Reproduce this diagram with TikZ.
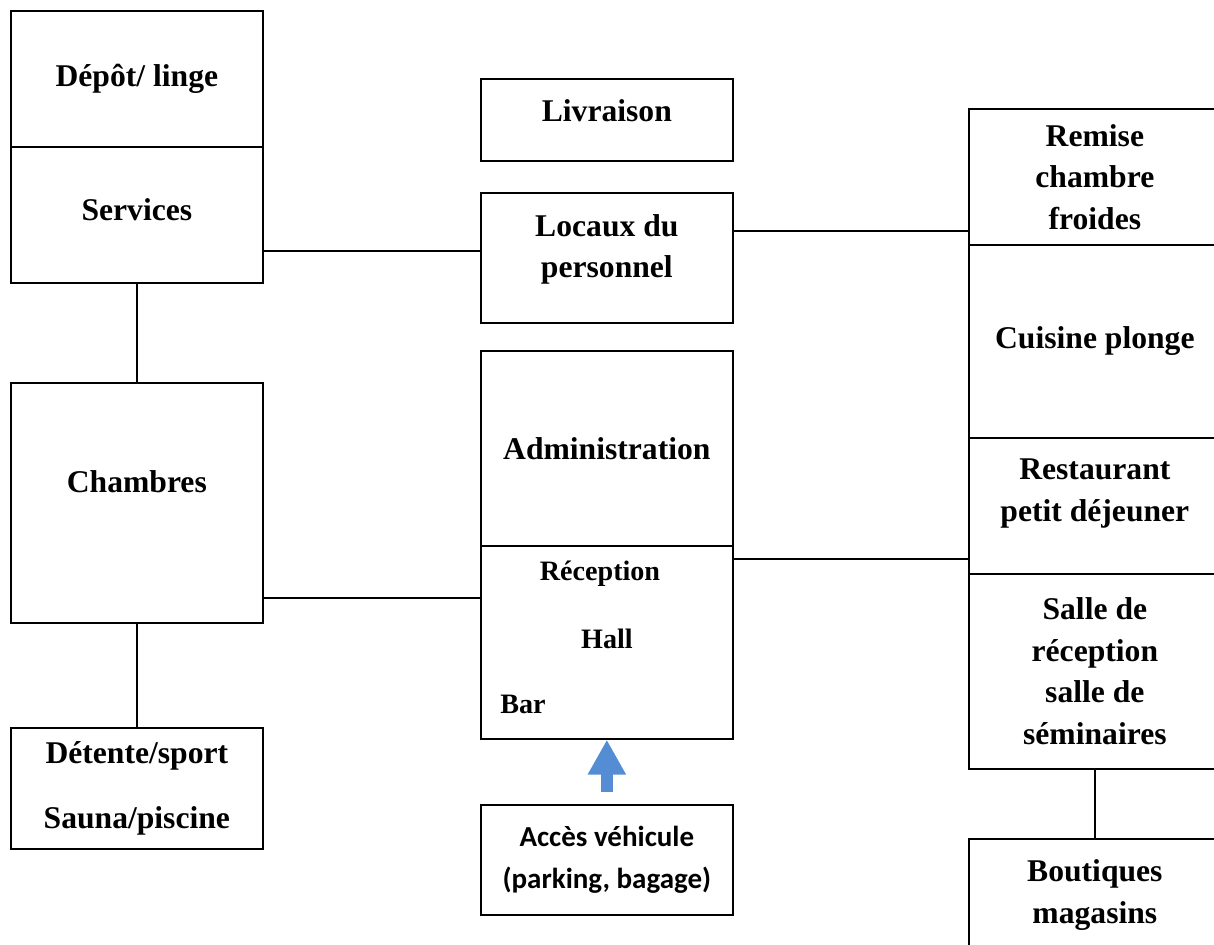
\documentclass[tikz,border=0pt]{standalone}
\usepackage{fontspec}
\setmainfont{Liberation Serif}
\newfontfamily\calibri{Carlito}
\usetikzlibrary{arrows.meta}
\definecolor{accesblue}{RGB}{84,141,212}
\tikzset{
  room/.style={draw, line width=1pt, anchor=north west, minimum width=5.04cm,
    inner sep=0pt, align=center, font=\bfseries\fontsize{18}{23.7}\selectfont},
  hallnote/.style={inner sep=0pt, font=\bfseries\fontsize{16}{20}\selectfont},
  link/.style={line width=1pt}
}
\begin{document}
\begin{tikzpicture}[x=0.02cm, y=-0.02cm]
    \useasboundingbox (0,0) rectangle (1214,945);

    % Left column
    \node[room, minimum height=2.72cm] (depot) at (10,10) {D\'ep\^ot/ linge};
    \node[room, minimum height=2.72cm, text depth=0.2cm] (serv) at (10,146) {Services};
    \node[room, minimum height=4.8cm, text depth=0.84cm] (chamb) at (10,382) {Chambres};
    \node[room, minimum height=2.42cm] (detente) at (10,727) {D\'etente/sport\\[13pt] Sauna/piscine};

    % Middle column
    \node[room, minimum height=1.64cm, text depth=0.36cm] (livr) at (480,78) {Livraison};
    \node[room, minimum height=2.6cm, text depth=0.47cm] (locaux) at (480,192) {Locaux du\\ personnel};
    \node[room, minimum height=3.9cm] (admin) at (480,350) {Administration};
    \node[room, minimum height=3.86cm] (recep) at (480,545) {};
    \node[hallnote] (receptxt) at (600,574) {R\'eception};
    \node[hallnote] (halltxt) at (607,639) {Hall};
    \node[hallnote] (bartxt) at (523,704) {Bar};
    \node[room, minimum height=2.2cm, font=\calibri\bfseries\fontsize{16.5}{23.7}\selectfont]
      (acces) at (480,804) {Acc\`es v\'ehicule\\ (parking, bagage)};

    % Right column
    \node[room, minimum height=2.72cm] (remise) at (968,108) {Remise\\ chambre\\ froides};
    \node[room, minimum height=3.86cm] (cuisine) at (968,244) {Cuisine plonge};
    \node[room, minimum height=2.72cm, text depth=0.62cm] (resto) at (968,437) {Restaurant\\ petit d\'ejeuner};
    \node[room, minimum height=3.9cm] (salle) at (968,573) {Salle de\\ r\'eception\\ salle de\\ s\'eminaires};
    \node[room, minimum height=2.24cm] (bout) at (968,838) {Boutiques\\ magasins};

    % Links
    \draw[link] (serv) -- (chamb);
    \draw[link] (chamb) -- (detente);
    \draw[link] (salle) -- (bout);
    \path (serv.east) ++(0,36) coordinate (servlink);
    \draw[link] (servlink) -- (servlink -| locaux.west);
    \path (locaux.east) ++(0,-27) coordinate (locauxlink);
    \draw[link] (locauxlink) -- (locauxlink -| remise.west);
    \path (chamb.east) ++(0,95) coordinate (chamblink);
    \draw[link] (chamblink) -- (chamblink -| recep.west);
    \path (recep.east) ++(0,-83) coordinate (receplink);
    \draw[link] (receplink) -- (receplink -| resto.west);

    % Access arrow
    \draw[accesblue, line width=0.24cm, -{Triangle[width=0.72cm, length=0.7cm]}]
      ([yshift=0.24cm]acces.north) -- (recep.south);
\end{tikzpicture}
\end{document}
